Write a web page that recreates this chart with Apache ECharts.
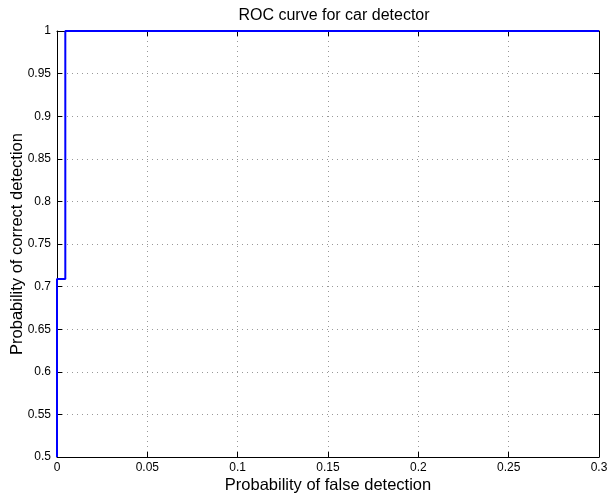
<!DOCTYPE html>
<html>
<head>
<meta charset="utf-8">
<script src="https://cdn.jsdelivr.net/npm/echarts@6/dist/echarts.min.js"></script>
<style>
html,body{margin:0;padding:0;background:#fff;}
#chartmain{width:615px;height:493px;}
</style>
</head>
<body>
<div id="chartmain"></div>
<script>
// ROC curve points (false detection prob, correct detection prob)
var rocFalse = [0, 0, 0.0046, 0.0046, 0.3];
var rocCorrect = [0.5, 0.709, 0.709, 1, 1];

var xRange = [0, 0.3, 0.05];
var yRange = [0.5, 1, 0.05];

var rocData = [];
for (var i = 0; i < rocFalse.length; i++) {
	rocData.push([rocFalse[i], rocCorrect[i]]);
}

var fontName = 'Liberation Sans, Arial, Helvetica, sans-serif';
var myChart = echarts.init(document.getElementById('chartmain'));

function axisBase(extra) {
	var a = {
		type: 'value',
		axisLine: {show: true, onZero: false, lineStyle: {color: '#000', width: 1}},
		axisTick: {show: true, inside: true, length: 5, lineStyle: {color: '#000'}},
		splitLine: {show: false},
		axisLabel: {show: false}
	};
	for (var k in extra) a[k] = extra[k];
	return a;
}

var option = {
	backgroundColor: '#fff',
	animation: false,
	title: {
		text: 'ROC curve for car detector',
		left: 329,
		top: 3,
		textAlign: 'center',
		textStyle: {fontFamily: fontName, fontSize: 16, fontWeight: 'normal', color: '#000'}
	},
	grid: {left: 57, right: 16, top: 31, bottom: 36, containLabel: false, outerBoundsMode: 'none'},
	xAxis: [
		axisBase({
			position: 'bottom',
			min: xRange[0], max: xRange[1], interval: xRange[2],
			name: 'Probability of false detection',
			nameLocation: 'middle',
			nameGap: 20,
			nameMoveOverlap: false,
			nameTextStyle: {fontFamily: fontName, fontSize: 16.5, color: '#000'},
			axisLabel: {show: true, margin: 5, color: '#000', fontFamily: fontName, fontSize: 12},
			splitLine: {show: true, lineStyle: {color: '#999', type: [1, 4], width: 1}}
		}),
		axisBase({position: 'top', min: xRange[0], max: xRange[1], interval: xRange[2]})
	],
	yAxis: [
		axisBase({
			position: 'left',
			min: yRange[0], max: yRange[1], interval: yRange[2],
			name: 'Probability of correct detection',
			nameLocation: 'middle',
			nameGap: 31,
			nameMoveOverlap: false,
			nameTextStyle: {fontFamily: fontName, fontSize: 16.5, color: '#000'},
			axisLabel: {show: true, margin: 6, color: '#000', fontFamily: fontName, fontSize: 12},
			splitLine: {show: true, lineStyle: {color: '#999', type: [1, 4], width: 1}}
		}),
		axisBase({position: 'right', min: yRange[0], max: yRange[1], interval: yRange[2]})
	],
	series: [{
		type: 'line',
		data: rocData,
		xAxisIndex: 0,
		yAxisIndex: 0,
		showSymbol: false,
		clip: false,
		z: 10,
		lineStyle: {color: '#0000ff', width: 2}
	}]
};
myChart.setOption(option);
</script>
</body>
</html>
